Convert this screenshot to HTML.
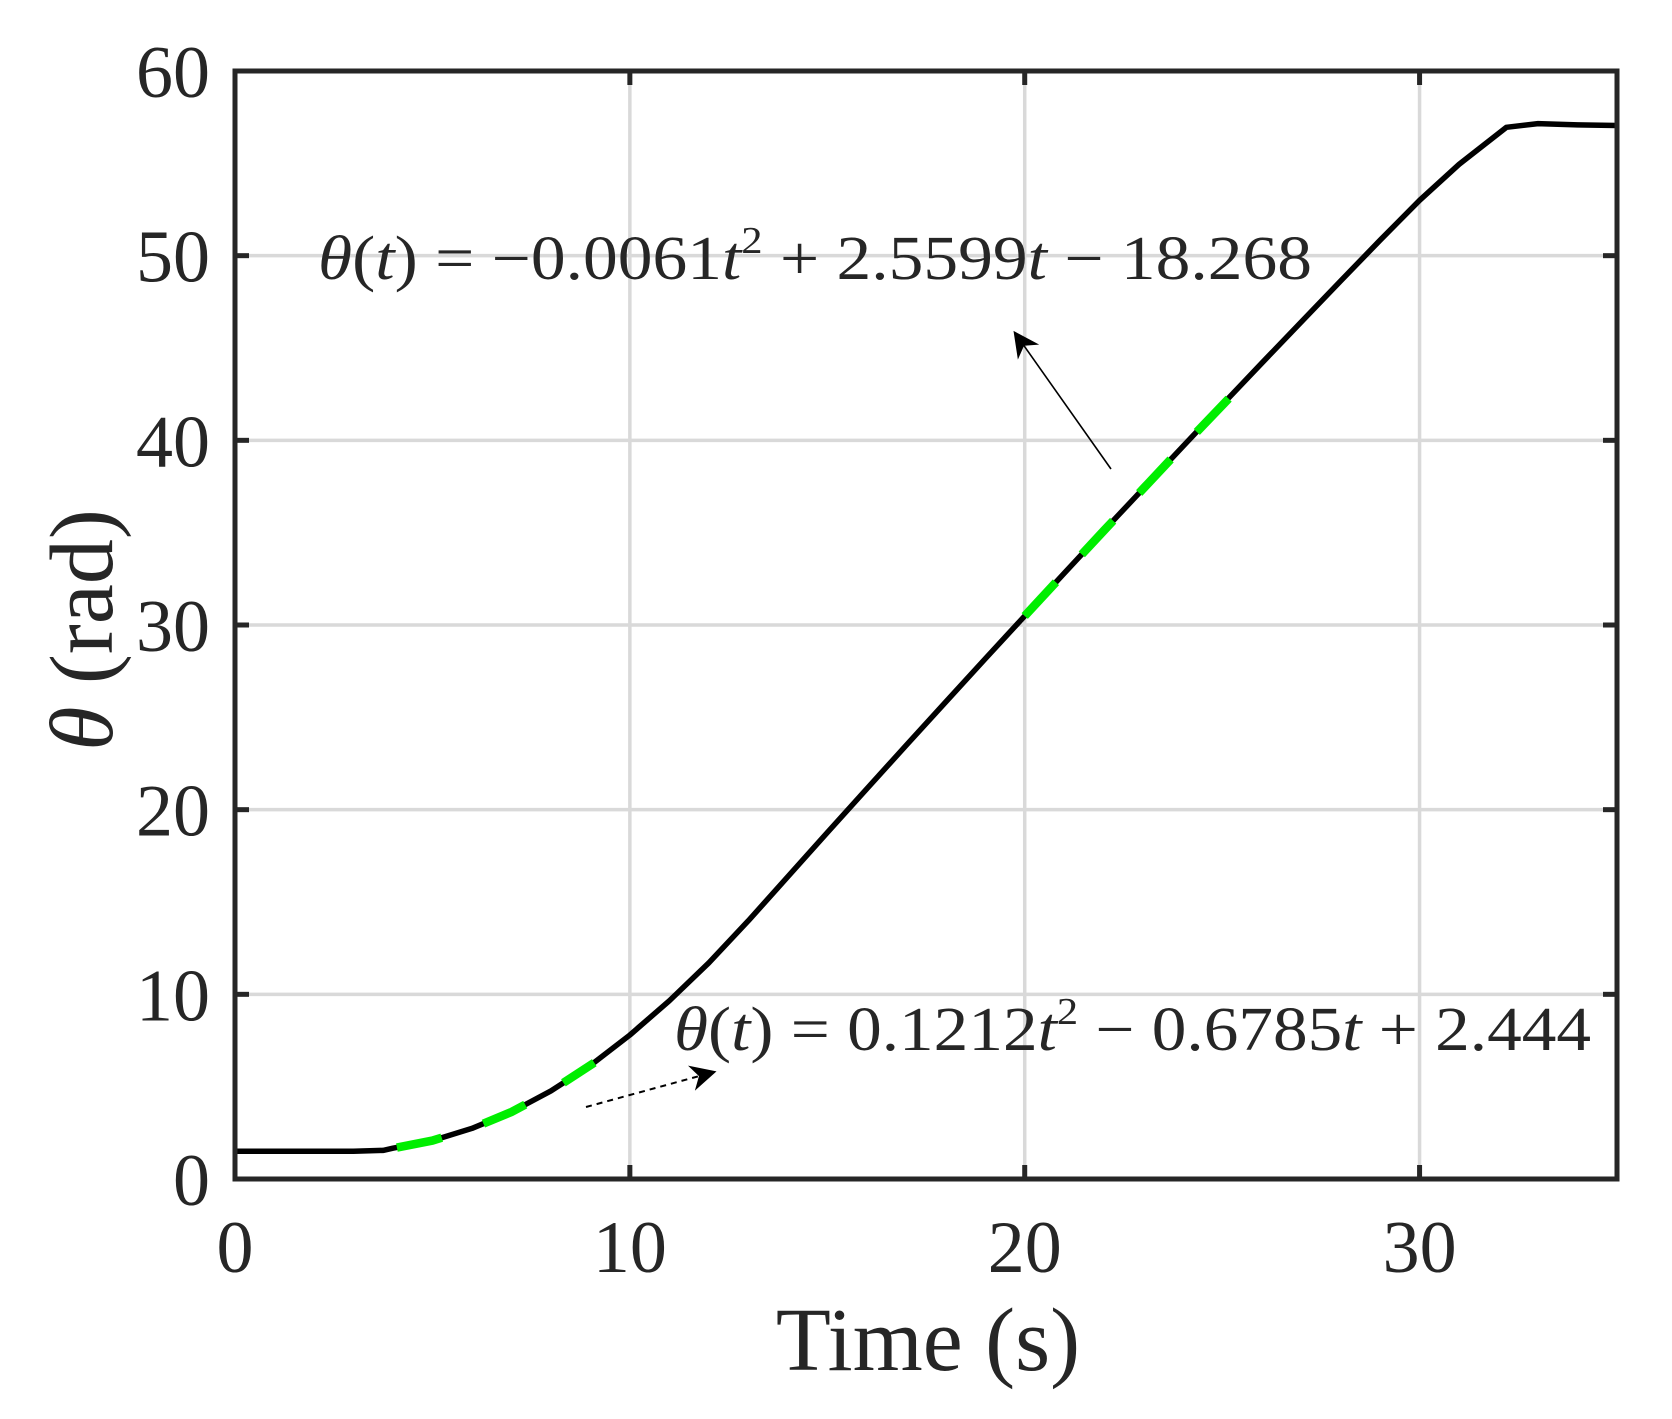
<!DOCTYPE html>
<html><head><meta charset="utf-8"><style>
html,body{margin:0;padding:0;background:#fff;width:1672px;height:1419px;overflow:hidden}
svg{display:block}
text{font-family:"Liberation Serif",serif;fill:#262626}
</style></head><body>
<svg id="chart" width="1672" height="1419" viewBox="0 0 1672 1419" xmlns="http://www.w3.org/2000/svg">
<g id="grid"></g>
<g id="series"></g>
<g id="axes"></g>
<text x="928" y="1370" font-size="90" text-anchor="middle">Time (s)</text>
<text transform="translate(112,630) rotate(-90)" font-size="90" text-anchor="middle"><tspan font-style="italic">θ</tspan>  (rad)</text>
<text x="318" y="279" font-size="62" textLength="994" lengthAdjust="spacingAndGlyphs" fill="#000"><tspan font-style="italic">θ</tspan>(<tspan font-style="italic">t</tspan>) = −0.0061<tspan font-style="italic">t</tspan><tspan font-size="38" dy="-26">2</tspan><tspan dy="26"> + 2.5599</tspan><tspan font-style="italic">t</tspan> − 18.268</text>
<text x="674" y="1050" font-size="62" textLength="917" lengthAdjust="spacingAndGlyphs" fill="#000"><tspan font-style="italic">θ</tspan>(<tspan font-style="italic">t</tspan>) = 0.1212<tspan font-style="italic">t</tspan><tspan font-size="38" dy="-26">2</tspan><tspan dy="26"> − 0.6785</tspan><tspan font-style="italic">t</tspan> + 2.444</text>
<defs>
<marker id="ah2" viewBox="0 0 10 10" refX="9" refY="5" markerWidth="26" markerHeight="26" orient="auto" markerUnits="userSpaceOnUse"><path d="M0,0 L10,5 L0,10 L3,5 z" fill="#000"/></marker></defs>
<line x1="1111" y1="469" x2="1015" y2="333" stroke="#000" stroke-width="1.6" marker-end="url(#ah2)"/>
<line x1="586" y1="1107" x2="714" y2="1072" stroke="#000" stroke-width="2" stroke-dasharray="6 5" marker-end="url(#ah2)"/>
</svg>
<script>
const times = [0,1,2,3,3.75,4,5,6,7,8,9,10,11,12,13,14,15,16,17,18,19,20,21,22,23,24,25,26,27,28,29,30,31,32.2,33,34,35];
const theta = [1.5,1.5,1.5,1.5,1.55,1.67,2.08,2.74,3.63,4.77,6.15,7.8,9.65,11.7,13.98,16.37,18.76,21.13,23.49,25.83,28.17,30.49,32.8,35.1,37.38,39.66,41.92,44.17,46.4,48.63,50.84,53.0,54.95,56.95,57.15,57.08,57.05];
const quadFitT = [4.1,5,6,7,8,9.1];
const quadFitV = [1.7,2.08,2.74,3.63,4.77,6.3];
const linFitT = [20,21,22,23,24,25.5];
const linFitV = [30.49,32.8,35.1,37.38,39.66,43.0];
const xTicks = [0,10,20,30];
const yTicks = [0,10,20,30,40,50,60];
const xTickLabels = ["0","10","20","30"];
const yTickLabels = ["0","10","20","30","40","50","60"];

const L=235,R=1617,T=71,B=1179,XMAX=35,YMAX=60;
const sx=v=>L+v/XMAX*(R-L);
const sy=v=>B-v/YMAX*(B-T);
const NS="http://www.w3.org/2000/svg";
function mk(tag,parent,attrs){const e=document.createElementNS(NS,tag);for(const k in attrs)e.setAttribute(k,attrs[k]);parent.appendChild(e);return e;}
const grid=document.getElementById('grid'),axes=document.getElementById('axes'),series=document.getElementById('series');

xTicks.forEach((v,i)=>{
  if(v>0){const g=mk('line',grid,{x1:sx(v),x2:sx(v),y1:T,y2:B,stroke:'#d9d9d9','stroke-width':3.5});
  
  }
  const t1=mk('line',axes,{x1:sx(v),x2:sx(v),y1:B,y2:B-14,stroke:'#262626','stroke-width':5});
  
  
  const t2=mk('line',axes,{x1:sx(v),x2:sx(v),y1:T,y2:T+14,stroke:'#262626','stroke-width':5});
  
  
  const lb=mk('text',axes,{x:sx(v),y:1272,'font-size':74,'text-anchor':'middle'});
  lb.textContent=xTickLabels[i];
  
  
});
yTicks.forEach((v,i)=>{
  if(v>0&&v<60){const g=mk('line',grid,{x1:L,x2:R,y1:sy(v),y2:sy(v),stroke:'#d9d9d9','stroke-width':3.5});
  
  }
  const t1=mk('line',axes,{x1:L,x2:L+14,y1:sy(v),y2:sy(v),stroke:'#262626','stroke-width':5});
  
  
  const t2=mk('line',axes,{x1:R,x2:R-14,y1:sy(v),y2:sy(v),stroke:'#262626','stroke-width':5});
  
  
  const lb=mk('text',axes,{x:210,y:sy(v)+26,'font-size':74,'text-anchor':'end'});
  lb.textContent=yTickLabels[i];
  
  
});
const frame=mk('rect',axes,{x:L,y:T,width:R-L,height:B-T,fill:'none',stroke:'#262626','stroke-width':5});



function pathD(ts,vs){return ts.map((t,i)=>(i?'L':'M')+sx(t).toFixed(1)+','+sy(vs[i]).toFixed(1)).join(' ');}
const main=mk('path',series,{d:pathD(times,theta),fill:'none',stroke:'#000','stroke-width':5.5,'stroke-linejoin':'round'});


const q=mk('path',series,{d:pathD(quadFitT,quadFitV),fill:'none',stroke:'#00ee00','stroke-width':8.5,'stroke-dasharray':'46 44'});


const lf=mk('path',series,{d:pathD(linFitT,linFitV),fill:'none',stroke:'#00ee00','stroke-width':8.5,'stroke-dasharray':'46 38'});


</script>
</body></html>
